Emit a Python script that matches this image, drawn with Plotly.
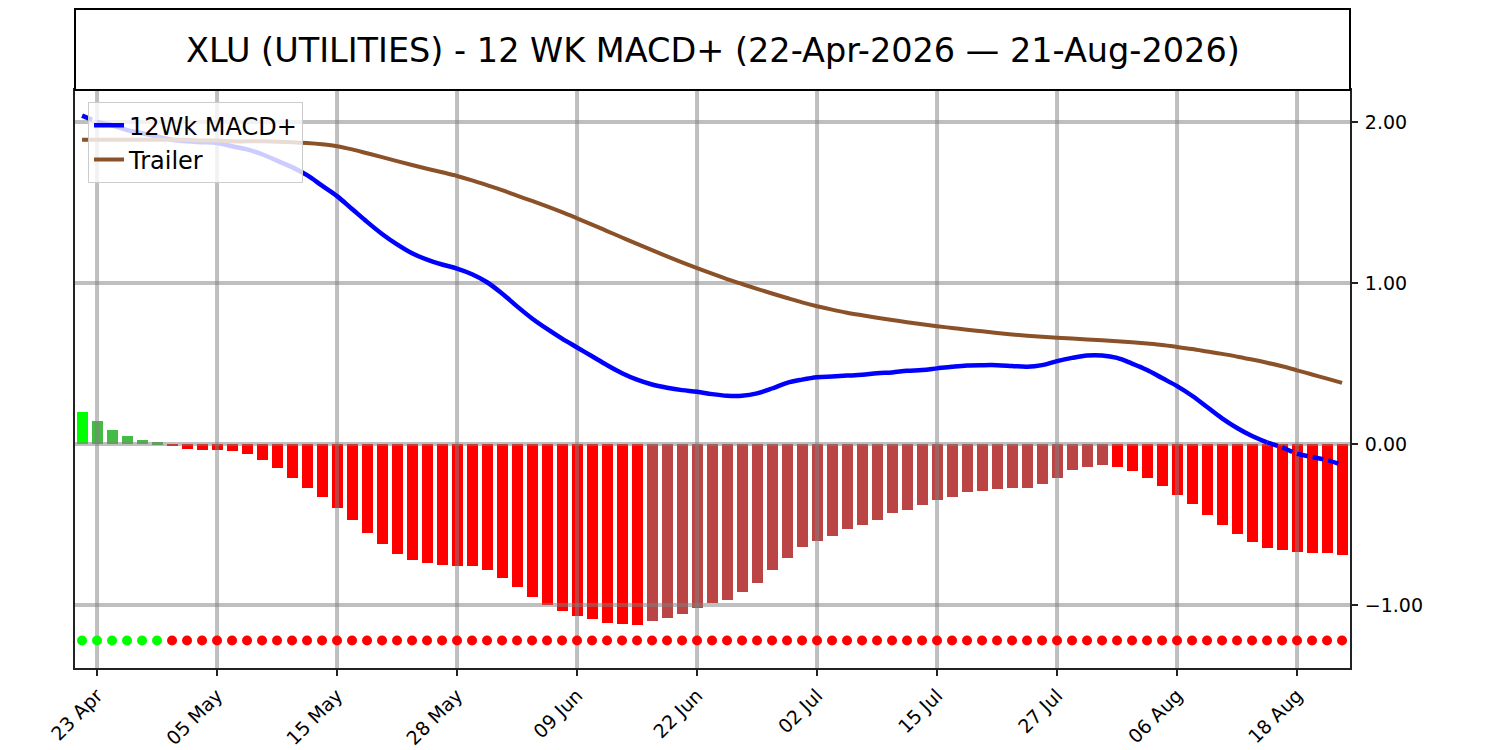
import pandas as pd
import plotly.graph_objects as go

# trading days 22-Apr-2026 .. 21-Aug-2026 (US market holidays removed)
holidays = ["2026-05-25", "2026-06-19", "2026-07-03"]
days = pd.bdate_range("2026-04-22", "2026-08-21")
days = days[~days.isin(pd.to_datetime(holidays))]

macd = [2.04, 2.00, 1.98, 1.95, 1.93, 1.91, 1.89, 1.88, 1.875, 1.87,
        1.85, 1.83, 1.80, 1.76, 1.72, 1.67, 1.605, 1.54, 1.46, 1.38,
        1.305, 1.24, 1.185, 1.145, 1.115, 1.09, 1.055, 1.005, 0.935, 0.855,
        0.78, 0.715, 0.655, 0.60, 0.545, 0.49, 0.44, 0.40, 0.37, 0.35,
        0.335, 0.325, 0.31, 0.30, 0.30, 0.315, 0.345, 0.38, 0.40, 0.415,
        0.42, 0.425, 0.43, 0.44, 0.445, 0.455, 0.46, 0.47, 0.48, 0.488,
        0.49, 0.49, 0.485, 0.48, 0.49, 0.515, 0.535, 0.55, 0.55, 0.535,
        0.50, 0.46, 0.41, 0.36, 0.30, 0.23, 0.16, 0.10, 0.05, 0.01,
        -0.02, -0.06, -0.08, -0.10, -0.13]

trailer = [1.89, 1.89, 1.89, 1.89, 1.89, 1.89, 1.89, 1.89, 1.885, 1.885,
           1.88, 1.88, 1.88, 1.878, 1.875, 1.87, 1.862, 1.85, 1.83, 1.806,
           1.782, 1.757, 1.733, 1.71, 1.688, 1.665, 1.638, 1.608, 1.577, 1.543,
           1.51, 1.476, 1.44, 1.402, 1.363, 1.323, 1.283, 1.243, 1.204, 1.166,
           1.129, 1.093, 1.058, 1.025, 0.994, 0.964, 0.935, 0.907, 0.88, 0.856,
           0.835, 0.816, 0.80, 0.785, 0.771, 0.757, 0.744, 0.732, 0.721, 0.71,
           0.70, 0.69, 0.681, 0.673, 0.666, 0.66, 0.655, 0.65, 0.645, 0.639,
           0.632, 0.624, 0.615, 0.603, 0.59, 0.575, 0.56, 0.543, 0.525, 0.505,
           0.483, 0.458, 0.432, 0.406, 0.38]

hist = [0.20, 0.143, 0.087, 0.05, 0.025, 0.012, -0.012, -0.03, -0.035, -0.037,
        -0.042, -0.06, -0.097, -0.147, -0.21, -0.27, -0.33, -0.40, -0.47, -0.55,
        -0.62, -0.68, -0.72, -0.74, -0.75, -0.755, -0.76, -0.78, -0.83, -0.89,
        -0.95, -1.00, -1.035, -1.07, -1.087, -1.11, -1.12, -1.122, -1.10, -1.08,
        -1.056, -1.02, -0.99, -0.97, -0.92, -0.86, -0.78, -0.71, -0.64, -0.60,
        -0.57, -0.53, -0.50, -0.47, -0.43, -0.41, -0.38, -0.35, -0.33, -0.30,
        -0.29, -0.28, -0.275, -0.27, -0.25, -0.21, -0.16, -0.14, -0.13, -0.14,
        -0.166, -0.21, -0.26, -0.315, -0.37, -0.44, -0.50, -0.56, -0.61, -0.645,
        -0.66, -0.67, -0.675, -0.678, -0.69]

y_ticks = [-1.0, 0.0, 1.0, 2.0]
signal_level = -1.22
x_range = [-0.47, 84.53]
y_range = [-1.391, 2.199]

idx = list(range(len(days)))
tick_idx = idx[1::8]
tick_text = [days[i].strftime("%d %b") for i in tick_idx]

# bar colours: bright when moving away from zero, muted when moving back
bar_colors = []
for i, h in enumerate(hist):
    prev = hist[i - 1] if i else None
    if h >= 0:
        bar_colors.append("#00ff00" if prev is None or h > prev else "#44bb44")
    else:
        bar_colors.append("#ff0000" if prev is None or h < prev else "#bb4444")
dot_colors = ["#00ff00" if h > 0 else "#ff0000" for h in hist]

# MACD drawn dashed where it sits outside the 0..2 band
outside = [v > 2 or v < 0 for v in macd]
seg_dash = [outside[i] or outside[i + 1] for i in range(len(macd) - 1)]
macd_solid, macd_dash = [], []
for i, v in enumerate(macd):
    left = seg_dash[i - 1] if i > 0 else None
    right = seg_dash[i] if i < len(seg_dash) else None
    macd_solid.append(v if (left is False or right is False) else None)
    macd_dash.append(v if (left is True or right is True) else None)

font = "DejaVu Sans"
grid_color = "rgba(128,128,128,0.5)"

fig = go.Figure()
fig.add_trace(go.Bar(x=idx, y=hist, width=0.73, marker=dict(color=bar_colors, line_width=0),
                     showlegend=False, hoverinfo="skip"))

# grid drawn above the bars but below the lines
gx, gy = [], []
for t in tick_idx:
    gx += [t, t, None]
    gy += [y_range[0], y_range[1], None]
fig.add_trace(go.Scatter(x=gx, y=gy, mode="lines", line=dict(color=grid_color, width=4),
                         showlegend=False, hoverinfo="skip"))
hx, hy = [], []
for t in y_ticks:
    hx += [x_range[0], x_range[1], None]
    hy += [t, t, None]
fig.add_trace(go.Scatter(x=hx, y=hy, mode="lines", line=dict(color=grid_color, width=4),
                         showlegend=False, hoverinfo="skip"))

fig.add_trace(go.Scatter(x=idx, y=macd_solid, mode="lines", name="12Wk MACD+",
                         line=dict(color="#0000ff", width=4.5, shape="spline", smoothing=1)))
fig.add_trace(go.Scatter(x=idx, y=macd_dash, mode="lines", showlegend=False,
                         line=dict(color="#0000ff", width=4.5, dash="11px,5px",
                                   shape="spline", smoothing=1)))
fig.add_trace(go.Scatter(x=idx, y=trailer, mode="lines", name="Trailer",
                         line=dict(color="#8b5229", width=4, shape="spline", smoothing=1)))
fig.add_trace(go.Scatter(x=idx, y=[signal_level] * len(idx), mode="markers",
                         marker=dict(color=dot_colors, size=10), showlegend=False,
                         hoverinfo="skip"))

fig.add_shape(type="rect", xref="paper", yref="paper", x0=0, x1=1, y0=1, y1=1 + 81 / 578,
              line=dict(color="black", width=2), fillcolor="white", layer="above")
fig.add_annotation(text="XLU (UTILITIES) - 12 WK MACD+ (22-Apr-2026 \u2014 21-Aug-2026)",
                   xref="paper", yref="paper", x=0.5, y=1 + 40 / 578, showarrow=False,
                   xanchor="center", yanchor="middle", font=dict(family=font, size=33.5, color="black"))

fig.update_layout(
    width=1500,
    height=750,
    autosize=False,
    margin=dict(l=75, r=150, t=90, b=82),
    paper_bgcolor="white",
    plot_bgcolor="white",
    font=dict(family=font, size=19, color="black"),
    showlegend=True,
    legend=dict(x=0.0102, y=0.979, xanchor="left", yanchor="top", itemwidth=30,
                bgcolor="rgba(255,255,255,0.8)", bordercolor="#cccccc", borderwidth=1,
                font=dict(family=font, size=24, color="black"), traceorder="normal"),
    bargap=0,
)
fig.update_xaxes(range=x_range, tickvals=tick_idx, ticktext=tick_text, tickangle=-45,
                 tickfont=dict(size=19),
                 showgrid=False, zeroline=False, showline=True, mirror=True, automargin=False,
                 linecolor="#222222", linewidth=2, ticks="outside", ticklen=6,
                 tickwidth=1.5, tickcolor="#222222", ticklabelstandoff=1)
fig.update_yaxes(range=y_range, side="right", tickvals=y_ticks, tickformat=".2f",
                 showgrid=False, zeroline=False, showline=True, mirror=True, automargin=False,
                 linecolor="#222222", linewidth=2, ticks="outside", ticklen=6,
                 tickwidth=1.5, tickcolor="#222222", ticklabelstandoff=3)

fig.write_html("out.html", config={"displayModeBar": False},
               post_script="document.body.style.margin = '0px';")
